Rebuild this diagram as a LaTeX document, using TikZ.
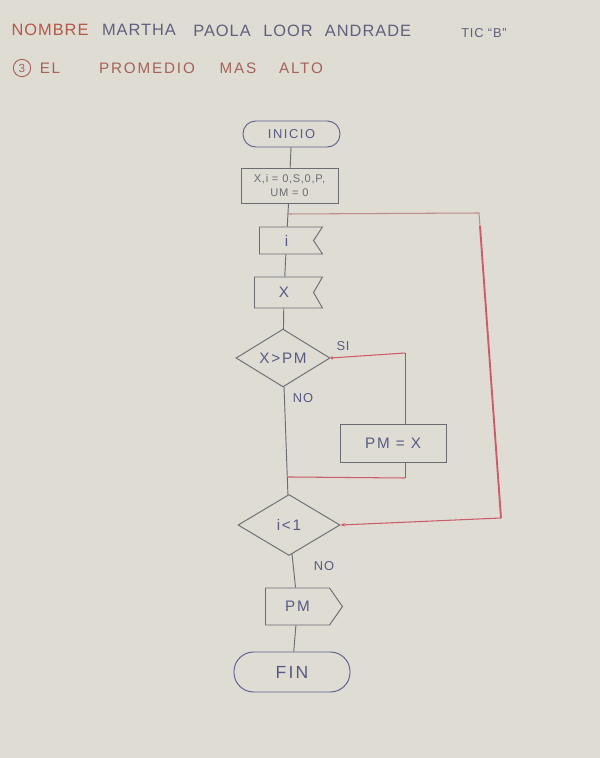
\documentclass[tikz,border=0pt]{standalone}
\usepackage{fontspec}
\setmainfont{Liberation Sans}
\newfontfamily\handwide{Liberation Sans}[LetterSpace=12]
\newfontfamily\handmid{Liberation Sans}[LetterSpace=6]
\usetikzlibrary{shapes.geometric,shapes.symbols,arrows.meta,calc}
\definecolor{paper}{RGB}{223,220,212}
\definecolor{pencil}{RGB}{108,108,116}
\definecolor{penblue}{RGB}{92,94,140}
\definecolor{ink}{RGB}{88,90,132}
\definecolor{redpen}{RGB}{206,92,104}
\definecolor{palered}{RGB}{190,140,140}
\definecolor{brownred}{RGB}{178,88,70}
\definecolor{titlebrown}{RGB}{165,98,88}
\definecolor{namegrey}{RGB}{96,96,124}
\tikzset{
  outline/.style={draw=pencil, line width=0.8pt, inner sep=0pt, text=ink},
  terminal/.style={outline, draw=penblue, rectangle},
  procbox/.style={outline, rectangle},
  cardbox/.style={outline, signal, signal to=nowhere, signal from=east},
  showbox/.style={outline, signal, signal to=east, signal from=nowhere},
  decision/.style={outline, diamond},
  flowtext/.style={font=\handwide\fontsize{13}{15}\selectfont},
  wire/.style={draw=pencil, line width=0.8pt},
  redwire/.style={draw=redpen, line width=0.9pt},
  branchlabel/.style={text=ink, font=\handmid\fontsize{11}{13}\selectfont, inner sep=0pt},
  header/.style={text=namegrey, font=\handmid\fontsize{14}{16}\selectfont, inner sep=0pt},
  subtitle/.style={text=titlebrown, font=\handwide\fontsize{13}{15}\selectfont, inner sep=0pt}
}
\begin{document}
\begin{tikzpicture}[x=0.03cm,y=-0.03cm]
\fill[paper] (0,0) rectangle (600,758);
\useasboundingbox (0,0) rectangle (600,758);

% heading
\node[header, text=brownred] (wNombre) at (50,30) {NOMBRE};
\node[header] (wMartha) at (139,30) {MARTHA};
\node[header] (wPaola) at (222,31) {PAOLA};
\node[header] (wLoor) at (288,31) {LOOR};
\node[header] (wAndrade) at (368,31) {ANDRADE};
\node[header, font=\handmid\fontsize{11}{13}\selectfont] (wTic) at (484,33) {TIC “B”};

\node[draw=titlebrown, circle, line width=0.8pt, minimum size=0.52cm, inner sep=0pt,
      text=titlebrown, font=\fontsize{10}{12}\selectfont] (num) at (22,68) {3};
\node[subtitle] (wEl) at (50,68) {EL};
\node[subtitle] (wProm) at (147,68) {PROMEDIO};
\node[subtitle] (wMas) at (238,68) {MAS};
\node[subtitle] (wAlto) at (301,68) {ALTO};

% flowchart shapes
\node[terminal, minimum width=2.91cm, minimum height=0.78cm, rounded corners=0.38cm,
      font=\handwide\fontsize{11}{13}\selectfont] (inicio) at (291.5,134) {INICIO};
\node[procbox, minimum width=2.91cm, minimum height=1.05cm, align=center,
      font=\handmid\fontsize{9.5}{12}\selectfont, text=pencil] (init) at (289.5,185.5)
      {X,i = 0,S,0,P,\\UM = 0};
\node[cardbox, minimum width=1.89cm, minimum height=0.81cm, signal pointer angle=113,
      flowtext] (readi) at (286.5,240.5) {i};
\node[cardbox, minimum width=2.04cm, minimum height=0.93cm, signal pointer angle=120,
      flowtext] (readx) at (284,292.5) {X};
\node[decision, minimum width=2.82cm, minimum height=1.65cm, flowtext] (test) at (283,358) {X>PM};
\node[procbox, minimum width=3.18cm, minimum height=1.14cm, flowtext] (assign) at (393,443) {PM = X};
\node[decision, minimum width=3.06cm, minimum height=1.83cm, flowtext] (loop) at (289,525) {i<1};
\node[showbox, minimum width=2.31cm, minimum height=1.11cm, signal pointer angle=110,
      flowtext] (show) at (297.5,606.5) {PM};
\node[terminal, minimum width=3.48cm, minimum height=1.2cm, rounded corners=0.59cm,
      font=\handwide\fontsize{15}{17}\selectfont] (fin) at (292,672) {FIN};

% branch labels
\node[branchlabel] (lblSi) at (343,346) {SI};
\node[branchlabel] (lblNo1) at (303,398) {NO};
\node[branchlabel] (lblNo2) at (324,566) {NO};

% bend points
\coordinate (join) at (286.5,214);
\coordinate (loopTop) at (479,213);
\coordinate (loopDrop) at (480,226);
\coordinate (loopBot) at (501,518);
\coordinate (siTurn) at (405,353);
\coordinate (assignOut) at (405,462);
\coordinate (mergeR) at (405,478);
\coordinate (mergeL) at ($(test.south)!0.84!(loop.north)$);

% main flow
\draw[wire] (inicio) -- (init);
\draw[wire] (init) -- (readi);
\draw[wire] (readi) -- (readx);
\draw[wire] (readx) -- (test);
\draw[wire] (test) -- (loop);
\draw[wire] (loop) -- (show);
\draw[wire] (show) -- (fin);

% true branch of the comparison
\draw[redwire, {Circle[length=2.5pt]}-] (test.east) -- (siTurn);
\draw[wire] (siTurn) -- (assign.north -| siTurn);
\draw[wire] (assignOut) -- (mergeR);
\draw[redwire] (mergeR) -- (mergeL);

% loop back to the reading of i
\draw[draw=palered, line width=0.9pt] (join) -- (loopTop) -- (loopDrop);
\draw[draw=redpen, line width=1.6pt] (loopDrop) -- (loopBot);
\draw[redwire, -{Stealth[length=4pt]}] (loopBot) -- (loop.east);
\end{tikzpicture}
\end{document}
